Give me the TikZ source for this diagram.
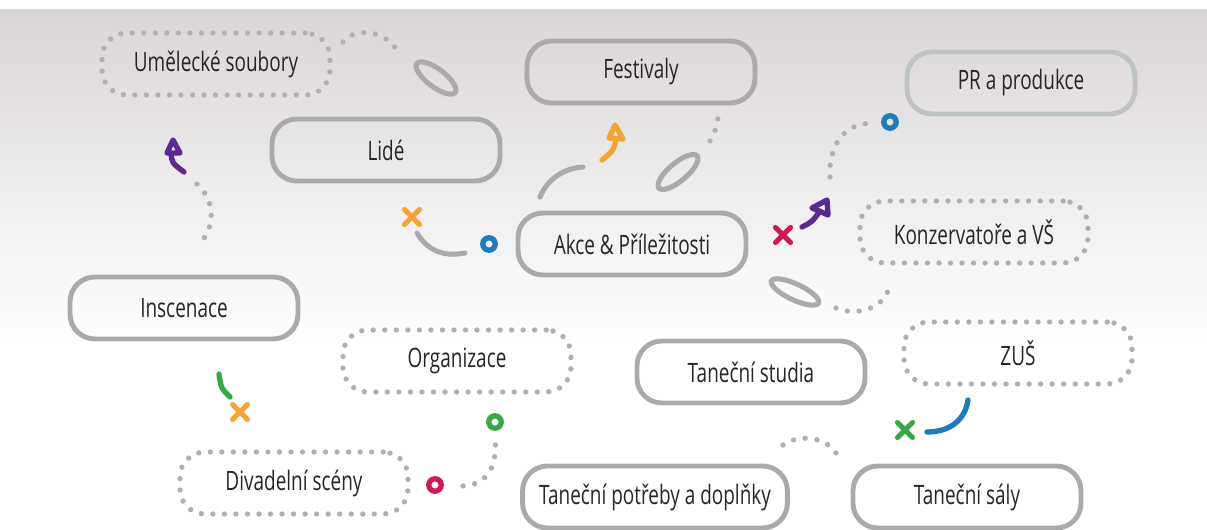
\documentclass[tikz,border=0pt]{standalone}
\usepackage{fontspec}
\setmainfont{Open Sans}[FakeStretch=0.71]
\usepackage{tikz}
\usetikzlibrary{shapes.misc}

\definecolor{bgtop}{RGB}{218,213,216}
\definecolor{bgmid}{RGB}{238,237,239}
\definecolor{boxgray}{RGB}{170,170,170}
\definecolor{dotgray}{RGB}{176,176,176}
\definecolor{prgray}{RGB}{190,194,194}
\definecolor{ink}{RGB}{38,38,42}
\definecolor{orangeo}{RGB}{244,164,54}
\definecolor{purpleo}{RGB}{92,42,142}
\definecolor{magentao}{RGB}{208,24,90}
\definecolor{blueo}{RGB}{31,123,192}
\definecolor{greeno}{RGB}{59,168,71}

\tikzstyle{every node}+=[inner sep=0pt]
\tikzstyle{solidbox}=[draw=boxgray, line width=3.5pt, rounded corners=0.62cm,
  minimum width=5.7cm, minimum height=1.55cm, text=ink, font=\fontsize{19}{22}\selectfont]
\tikzstyle{dotbox}=[solidbox, draw=dotgray, line width=3.8pt, line cap=round,
  dash pattern=on 0pt off 8.2pt]
\tikzstyle{grayline}=[draw=boxgray, line width=3.6pt, line cap=round]
\tikzstyle{dotline}=[draw=dotgray, line width=3.8pt, line cap=round, dash pattern=on 0pt off 8.4pt]
\tikzstyle{pen}=[line width=3.8pt, line cap=round, line join=round]
\tikzstyle{ring}=[circle, draw, line width=3.8pt, minimum size=0.31cm]
\tikzstyle{cross}=[cross out, draw, line width=3.6pt, line cap=round, minimum size=0.25cm]

\begin{document}
\begin{tikzpicture}[x=0.25mm, y=0.25mm]
    \useasboundingbox (0,0) rectangle (1207,-530);
    \shade[top color=bgtop, middle color=bgmid, bottom color=white] (0,-10) rectangle (1207,-340);
    % boxes
    \node[dotbox] (umelecke) at (216,-64) {Umělecké soubory};
    \node[solidbox] (lide) at (386,-150) {Lidé};
    \node[solidbox] (festivaly) at (641,-72) {Festivaly};
    \node[solidbox, draw=prgray] (pr) at (1021,-83) {PR a produkce};
    \node[dotbox] (konzervatore) at (974,-232) {Konzervatoře a VŠ};
    \node[solidbox] (akce) at (632,-244) {Akce \& Příležitosti};
    \node[solidbox] (inscenace) at (184,-308) {Inscenace};
    \node[dotbox] (organizace) at (457,-361) {Organizace};
    \node[dotbox] (divadelni) at (294,-483) {Divadelní scény};
    \node[solidbox] (studia) at (751,-372) {Taneční studia};
    \node[dotbox] (zus) at (1018,-353) {ZUŠ};
    \node[solidbox, minimum width=6.62cm] (potreby) at (655,-497) {Taneční potřeby a doplňky};
    \node[solidbox] (saly) at (967,-497) {Taneční sály};
    % markers
    \node[ring, draw=blueo] (ring1) at (489,-244) {};
    \node[ring, draw=blueo] (ring2) at (890,-122) {};
    \node[ring, draw=greeno] (ring3) at (495,-422) {};
    \node[ring, draw=magentao] (ring4) at (435,-485) {};
    \node[cross, draw=orangeo] (x1) at (412,-217) {};
    \node[cross, draw=magentao] (x2) at (783,-235) {};
    \node[cross, draw=orangeo] (x3) at (240,-412) {};
    \node[cross, draw=greeno] (x4) at (905,-430) {};
    % top left
    \draw[dotline] (343,-42) .. controls (352,-28) and (385,-28) .. (398,-52);
    \draw[grayline] (436,-78) ellipse [x radius=24, y radius=9, rotate=-37];
    \draw[pen, purpleo] (173,-140) -- (167,-153) -- (180,-153) -- cycle;
    \draw[pen, purpleo] (171,-153) .. controls (172,-163) .. (184,-172);
    \draw[dotline] (197,-184) .. controls (215,-200) and (215,-225) .. (202,-241);
    % Lide - Akce
    \draw[grayline] (417,-233) .. controls (430,-255) and (450,-256) .. (465,-253);
    % Akce - Festivaly
    \draw[grayline] (540,-197) .. controls (548,-178) and (565,-168) .. (583,-167);
    \draw[pen, orangeo] (615,-125) -- (609,-138) -- (623,-139) -- cycle;
    \draw[pen, orangeo] (616,-139) .. controls (614,-150) .. (602,-160);
    \draw[grayline] (678,-172) ellipse [x radius=25, y radius=9, rotate=40];
    \draw[dotline] (710,-141) .. controls (715,-132) .. (718,-118);
    % Akce - PR, Konzervatore
    \draw[pen, purpleo] (827,-200) -- (812,-208) -- (828,-215) -- cycle;
    \draw[pen, purpleo] (820,-211) .. controls (812,-222) .. (802,-227);
    \draw[dotline, shorten >=10pt] (830,-177) .. controls (828,-145) and (845,-125) .. (ring2);
    \draw[grayline] (795,-292) ellipse [x radius=26, y radius=8, rotate=-25];
    \draw[dotline] (836,-308) .. controls (860,-318) and (888,-305) .. (889,-285);
    % Inscenace - Divadelni
    \draw[pen, greeno] (219,-374) .. controls (221,-388) .. (230,-397);
    % Organizace - Divadelni
    \draw[dotline, shorten <=10pt, shorten >=10pt] (ring3) .. controls (496,-475) and (480,-487) .. (ring4);
    % Potreby - Saly
    \draw[dotline] (783,-445) .. controls (795,-435) and (830,-433) .. (840,-461);
    \draw[pen, blueo] (927,-432) .. controls (950,-432) and (965,-420) .. (968,-400);
\end{tikzpicture}
\end{document}
